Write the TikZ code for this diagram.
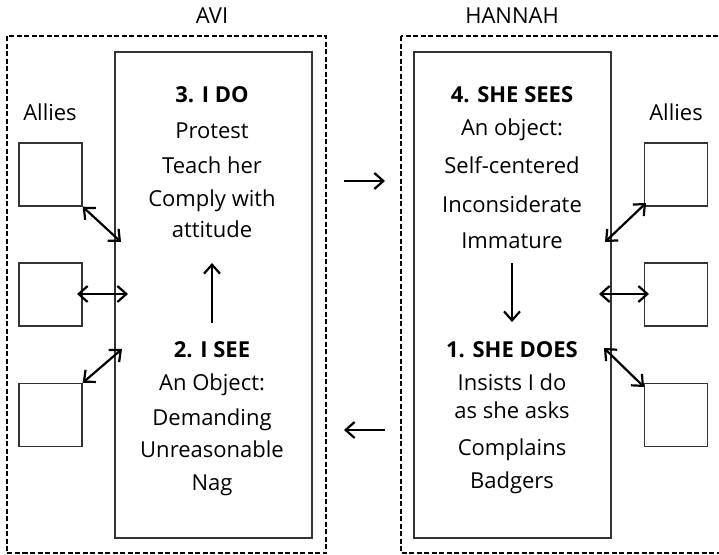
\documentclass[tikz,border=0pt]{standalone}
\usepackage{fontspec}
\setmainfont{Open Sans}
\usetikzlibrary{arrows.meta}

\tikzset{
  group/.style={draw=black, line width=2.3pt, dash pattern=on 5pt off 2.5pt},
  panel/.style={draw=black!80, line width=1.4pt, minimum width=197pt, minimum height=486pt, inner sep=0pt},
  ally/.style={draw=black!80, line width=1.4pt, minimum width=63pt, minimum height=63pt, inner sep=0pt},
  txt/.style={font=\fontsize{22}{26}\selectfont, anchor=base, inner sep=0pt},
  head/.style={txt, font=\fontsize{22}{26}\selectfont\bfseries},
  link/.style={line width=2.2pt, {Straight Barb[length=9pt,width=16pt]}-{Straight Barb[length=9pt,width=16pt]}},
  flow/.style={line width=2.2pt, -{Straight Barb[length=9pt,width=16pt]}}
}

\begin{document}
\begin{tikzpicture}[x=1pt, y=-1pt]
\useasboundingbox (0,0) rectangle (719,554);
\clip (0,0) rectangle (719,554);
\fill[white] (0,0) rectangle (719,554);

% the two people
\draw[group] (7,36) rectangle (326,553);
\draw[group] (401,36) rectangle (740,553);
\node[txt] (avi) at (212,23) {AVI};
\node[txt] (hannah) at (512,23) {HANNAH};

% inner panels
\node[panel] (pa) at (213.5,295) {};
\node[panel] (ph) at (512.5,295) {};

% allies
\node[txt] (alliesA) at (50,120) {Allies};
\node[txt] (alliesH) at (676,120) {Allies};
\node[ally] (a1) at (50.5,174.5) {};
\node[ally] (a2) at (50.5,294.5) {};
\node[ally] (a3) at (50.5,415) {};
\node[ally] (h1) at (676,174.5) {};
\node[ally] (h2) at (676,294.5) {};
\node[ally] (h3) at (676,415) {};

% Avi's side
\node[head] (ado) at (212,102) {3. I DO};
\node[txt] (ado1) at (212,138) {Protest};
\node[txt] (ado2) at (212,173) {Teach her};
\node[txt] (ado3) at (212,206) {Comply with};
\node[txt] (ado4) at (212,237) {attitude};
\node[head] (asee) at (212,357) {2. I SEE};
\node[txt] (asee1) at (212,390) {An Object:};
\node[txt] (asee2) at (212,425) {Demanding};
\node[txt] (asee3) at (212,457) {Unreasonable};
\node[txt] (asee4) at (212,490) {Nag};

% Hannah's side
\node[head] (hsee) at (512,102) {4. SHE SEES};
\node[txt] (hsee1) at (512,135) {An object:};
\node[txt] (hsee2) at (512,173) {Self-centered};
\node[txt] (hsee3) at (512,212) {Inconsiderate};
\node[txt] (hsee4) at (512,248) {Immature};
\node[head] (hdo) at (512,357) {1. SHE DOES};
\node[txt] (hdo1) at (512,390) {Insists I do};
\node[txt] (hdo2) at (512,418) {as she asks};
\node[txt] (hdo3) at (512,455) {Complains};
\node[txt] (hdo4) at (512,488) {Badgers};

% connector ends
\coordinate (pa1) at (121,242);
\coordinate (pa2) at (128,294);
\coordinate (pa3) at (122,349);
\coordinate (a2e) at (77,294);
\coordinate (ph1) at (605,242);
\coordinate (ph2) at (599,294);
\coordinate (ph3) at (604,348);
\coordinate (h1e) at (646,203);
\coordinate (h2e) at (649,294);
\coordinate (h3e) at (644,387);
\coordinate (up0) at (212,323);
\coordinate (up1) at (212,263);
\coordinate (dn0) at (512,263);
\coordinate (dn1) at (512,322);
\coordinate (r0) at (344,181);
\coordinate (r1) at (385,181);
\coordinate (l0) at (385,430);
\coordinate (l1) at (344,430);

% links to allies
\draw[link] (a1.south east) -- (pa1);
\draw[link] (a2e) -- (pa2);
\draw[link] (a3.north east) -- (pa3);
\draw[link] (h1e) -- (ph1);
\draw[link] (ph2) -- (h2e);
\draw[link] (ph3) -- (h3e);

% the cycle
\draw[flow] (up0) -- (up1);
\draw[flow] (dn0) -- (dn1);
\draw[flow] (r0) -- (r1);
\draw[flow] (l0) -- (l1);
\end{tikzpicture}
\end{document}
